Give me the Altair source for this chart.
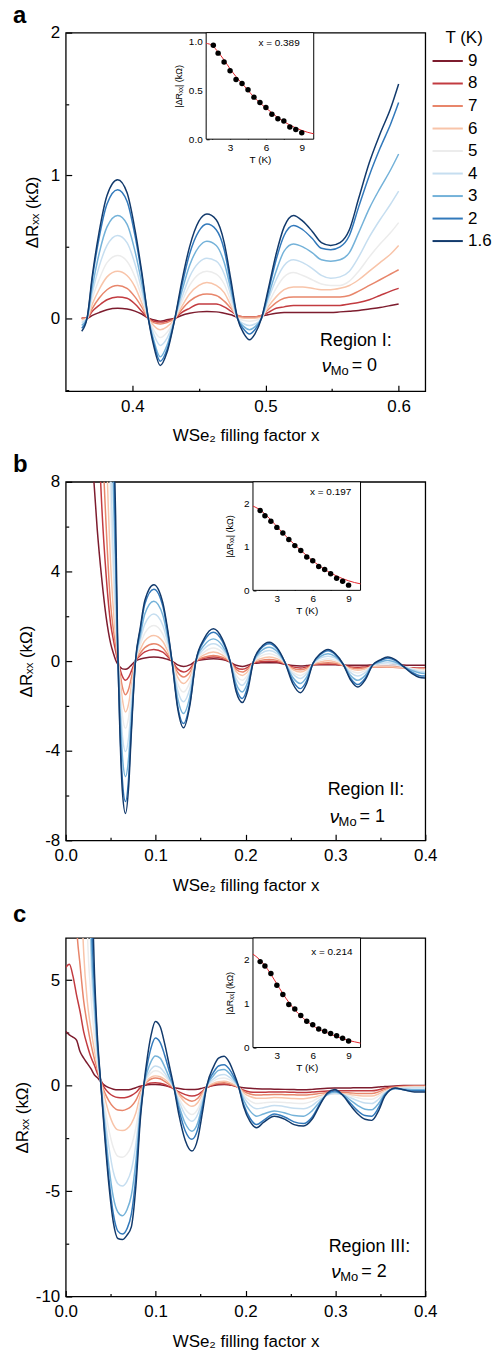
import altair as alt
import pandas as pd

FONT = "Liberation Sans"
T_LABELS = ["9", "8", "7", "6", "5", "4", "3", "2", "1.6"]
COLORS = ["#7d1c2e", "#c23b40", "#e8866b", "#f8c4a9", "#ececec", "#c6def0", "#74b2d9", "#3279bb", "#123a6c"]

# ---------------- panel a : Region I ----------------
A_X = [0.362, 0.366, 0.370, 0.375, 0.381, 0.389, 0.396, 0.402, 0.407, 0.412, 0.416, 0.421, 0.426, 0.432,
       0.437, 0.443, 0.450, 0.456, 0.463, 0.469, 0.474, 0.479, 0.484, 0.488, 0.492, 0.497, 0.502, 0.508,
       0.514, 0.521, 0.528, 0.535, 0.542, 0.549, 0.556, 0.563, 0.570, 0.578, 0.586, 0.594, 0.600]
A_9 = [0.0, 0.0, 0.02, 0.04, 0.06, 0.07, 0.065, 0.05, 0.03, 0.0, -0.01, -0.02, -0.01, 0.0, 0.02, 0.035, 0.045,
       0.047, 0.045, 0.035, 0.025, 0.01, 0.01, 0.01, 0.01, 0.015, 0.025, 0.035, 0.04, 0.04, 0.04, 0.04, 0.04,
       0.04, 0.045, 0.05, 0.055, 0.065, 0.075, 0.09, 0.10]
A_8 = [0.0, 0.0, 0.05, 0.09, 0.13, 0.15, 0.14, 0.10, 0.05, 0.0, -0.02, -0.026, -0.02, 0.0, 0.04, 0.07, 0.10,
       0.10, 0.10, 0.08, 0.05, 0.02, 0.01, 0.01, 0.01, 0.02, 0.04, 0.07, 0.08, 0.09, 0.09, 0.09, 0.09, 0.09,
       0.09, 0.10, 0.11, 0.13, 0.16, 0.19, 0.21]
A_7 = [0.0, 0.0, 0.07, 0.14, 0.20, 0.23, 0.21, 0.15, 0.08, 0.0, -0.03, -0.04, -0.03, 0.0, 0.06, 0.12, 0.16,
       0.17, 0.16, 0.12, 0.07, 0.02, 0.01, 0.01, 0.01, 0.02, 0.06, 0.11, 0.14, 0.15, 0.15, 0.15, 0.15, 0.15,
       0.15, 0.16, 0.19, 0.23, 0.27, 0.31, 0.34]
A_6 = [-0.01, 0.0, 0.10, 0.20, 0.29, 0.33, 0.30, 0.22, 0.11, 0.0, -0.05, -0.08, -0.06, 0.0, 0.08, 0.17, 0.23,
       0.25, 0.23, 0.18, 0.09, 0.01, 0.0, 0.0, 0.0, 0.01, 0.08, 0.15, 0.20, 0.22, 0.22, 0.21, 0.20, 0.20,
       0.21, 0.23, 0.27, 0.33, 0.39, 0.45, 0.51]
A_5 = [-0.02, 0.0, 0.14, 0.27, 0.39, 0.44, 0.40, 0.29, 0.15, 0.0, -0.08, -0.135, -0.10, 0.0, 0.11, 0.23, 0.31,
       0.33, 0.31, 0.24, 0.12, 0.0, -0.015, -0.02, -0.015, 0.0, 0.10, 0.21, 0.29, 0.32, 0.30, 0.27, 0.24,
       0.23, 0.23, 0.26, 0.33, 0.43, 0.52, 0.60, 0.67]
A_4 = [-0.03, 0.0, 0.18, 0.36, 0.51, 0.58, 0.53, 0.38, 0.20, 0.0, -0.11, -0.19, -0.14, 0.0, 0.14, 0.29, 0.39,
       0.42, 0.40, 0.31, 0.16, 0.0, -0.04, -0.05, -0.04, 0.0, 0.13, 0.27, 0.37, 0.41, 0.39, 0.35, 0.30, 0.28,
       0.29, 0.33, 0.43, 0.57, 0.69, 0.80, 0.89]
A_3 = [-0.05, 0.0, 0.22, 0.45, 0.64, 0.72, 0.66, 0.47, 0.25, 0.0, -0.15, -0.27, -0.19, 0.0, 0.18, 0.37, 0.50,
       0.54, 0.51, 0.39, 0.20, 0.0, -0.06, -0.08, -0.06, 0.0, 0.15, 0.33, 0.47, 0.52, 0.50, 0.46, 0.41, 0.40,
       0.41, 0.46, 0.60, 0.77, 0.91, 1.04, 1.15]
A_2 = [-0.07, 0.0, 0.28, 0.56, 0.80, 0.90, 0.82, 0.58, 0.31, 0.0, -0.17, -0.30, -0.22, 0.0, 0.22, 0.45, 0.61,
       0.66, 0.62, 0.48, 0.24, 0.0, -0.08, -0.11, -0.08, 0.0, 0.18, 0.41, 0.58, 0.65, 0.62, 0.56, 0.49, 0.48,
       0.50, 0.58, 0.78, 1.00, 1.19, 1.36, 1.51]
A_16 = [-0.09, 0.0, 0.30, 0.60, 0.86, 0.97, 0.88, 0.62, 0.33, 0.0, -0.19, -0.33, -0.24, 0.0, 0.25, 0.50, 0.68,
        0.73, 0.69, 0.53, 0.27, 0.0, -0.11, -0.15, -0.11, 0.0, 0.20, 0.45, 0.64, 0.72, 0.68, 0.61, 0.53, 0.51,
        0.53, 0.62, 0.84, 1.09, 1.29, 1.47, 1.64]

# ---------------- panel b : Region II ----------------
B_X = [0.030, 0.035, 0.040, 0.045, 0.050, 0.053, 0.0555, 0.058, 0.060, 0.063, 0.0665, 0.070, 0.073, 0.0776,
       0.083, 0.088, 0.098, 0.108, 0.113, 0.1182, 0.1245, 0.1311, 0.138, 0.1448, 0.154, 0.1643, 0.174, 0.1828,
       0.1895, 0.1965, 0.2025, 0.2087, 0.217, 0.2264, 0.235, 0.2438, 0.2525, 0.2611, 0.268, 0.2751, 0.283,
       0.2918, 0.300, 0.3084, 0.317, 0.325, 0.333, 0.3416, 0.350, 0.3582, 0.367, 0.376, 0.385, 0.393, 0.400]
B_9 = [8.8, 5.9, 3.7, 1.95, 0.78, 0.35, 0.05, -0.15, -0.25, -0.35, -0.37, -0.3, -0.18, 0.0, 0.09, 0.14, 0.18,
       0.14, 0.08, 0.0, -0.17, -0.24, -0.17, 0.0, 0.07, 0.1, 0.07, -0.05, -0.19, -0.24, -0.19, -0.1, -0.08,
       -0.07, -0.08, -0.14, -0.2, -0.22, -0.2, -0.17, -0.16, -0.16, -0.16, -0.18, -0.19, -0.19, -0.19, -0.17,
       -0.16, -0.16, -0.17, -0.18, -0.19, -0.19, -0.19]
B_8 = [20, 12, 7.0, 3.8, 1.65, 0.95, 0.45, 0.0, -0.3, -0.68, -0.86, -0.72, -0.45, 0.0, 0.25, 0.41, 0.52, 0.4,
       0.22, 0.0, -0.35, -0.49, -0.34, 0.0, 0.12, 0.18, 0.12, -0.04, -0.29, -0.37, -0.28, -0.09, -0.03, -0.01,
       -0.03, -0.13, -0.26, -0.31, -0.26, -0.17, -0.14, -0.13, -0.14, -0.2, -0.26, -0.28, -0.26, -0.24, -0.24,
       -0.24, -0.26, -0.28, -0.3, -0.31, -0.31]
B_7 = [20, 20, 11, 6.0, 2.5, 1.4, 0.7, 0.0, -0.45, -1.15, -1.5, -1.25, -0.75, 0.0, 0.36, 0.6, 0.77, 0.58, 0.32,
       0.0, -0.5, -0.71, -0.5, 0.0, 0.17, 0.25, 0.17, -0.03, -0.37, -0.49, -0.36, -0.08, 0.03, 0.07, 0.03,
       -0.12, -0.32, -0.39, -0.32, -0.16, -0.1, -0.07, -0.1, -0.2, -0.3, -0.34, -0.31, -0.27, -0.27, -0.27,
       -0.29, -0.31, -0.33, -0.34, -0.34]
B_6 = [20, 20, 20, 10, 4.3, 2.3, 1.1, 0.25, -0.6, -1.7, -2.27, -1.9, -1.1, 0.0, 0.52, 0.9, 1.14, 0.87, 0.48,
       0.0, -0.72, -1.0, -0.7, 0.0, 0.28, 0.4, 0.28, -0.02, -0.47, -0.64, -0.46, -0.07, 0.11, 0.18, 0.11, -0.1,
       -0.38, -0.49, -0.38, -0.14, -0.04, 0.01, -0.04, -0.17, -0.35, -0.41, -0.35, -0.24, -0.23, -0.24, -0.26,
       -0.3, -0.33, -0.36, -0.37]
B_5 = [20, 20, 20, 20, 7.0, 3.8, 1.6, 0.3, -0.9, -2.4, -3.0, -2.5, -1.5, 0.0, 0.72, 1.25, 1.59, 1.2, 0.68, 0.0,
       -1.0, -1.38, -0.95, 0.0, 0.4, 0.58, 0.4, -0.01, -0.62, -0.86, -0.6, -0.06, 0.22, 0.33, 0.22, -0.08,
       -0.48, -0.64, -0.48, -0.12, 0.03, 0.1, 0.03, -0.15, -0.43, -0.53, -0.43, -0.2, -0.16, -0.16, -0.18,
       -0.25, -0.33, -0.39, -0.41]
B_4 = [20, 20, 20, 20, 8.8, 4.6, 2.3, 0.2, -1.3, -3.3, -4.04, -3.4, -2.0, 0.0, 0.95, 1.65, 2.1, 1.6, 0.9, 0.0,
       -1.3, -1.82, -1.25, 0.0, 0.55, 0.77, 0.55, 0.0, -0.78, -1.08, -0.75, -0.05, 0.33, 0.47, 0.33, -0.07,
       -0.57, -0.78, -0.57, -0.11, 0.13, 0.22, 0.13, -0.14, -0.52, -0.67, -0.52, -0.18, -0.1, -0.07, -0.12,
       -0.25, -0.38, -0.46, -0.49]
B_3 = [20, 20, 20, 20, 13, 7.5, 4.0, 0.3, -1.8, -4.2, -5.16, -4.3, -2.5, 0.0, 1.15, 2.1, 2.67, 2.05, 1.15, 0.0,
       -1.65, -2.34, -1.6, 0.0, 0.7, 0.99, 0.7, 0.0, -1.0, -1.38, -0.95, -0.04, 0.44, 0.62, 0.44, -0.06, -0.72,
       -1.0, -0.72, -0.1, 0.2, 0.33, 0.2, -0.13, -0.65, -0.86, -0.65, -0.17, -0.04, 0.03, -0.05, -0.25, -0.42,
       -0.52, -0.56]
B_2 = [20, 20, 20, 20, 20, 10, 5.0, 0.0, -2.6, -5.3, -6.27, -5.2, -3.0, 0.0, 1.4, 2.55, 3.21, 2.45, 1.4, 0.0,
       -2.0, -2.79, -1.9, 0.0, 0.9, 1.29, 0.9, 0.0, -1.2, -1.67, -1.15, -0.03, 0.55, 0.77, 0.55, -0.05, -0.87,
       -1.23, -0.88, -0.1, 0.28, 0.46, 0.29, -0.12, -0.78, -1.05, -0.78, -0.17, 0.02, 0.13, 0.02, -0.25, -0.5,
       -0.64, -0.67]
B_16 = [20, 20, 20, 20, 20, 11, 6.5, 0.3, -2.8, -5.8, -6.8, -5.6, -3.2, 0.0, 1.5, 2.7, 3.41, 2.6, 1.5, 0.0,
        -2.1, -2.98, -2.0, 0.0, 1.0, 1.44, 1.0, 0.0, -1.35, -1.85, -1.3, -0.03, 0.6, 0.84, 0.6, -0.05, -1.0,
        -1.41, -1.0, -0.1, 0.32, 0.52, 0.33, -0.12, -0.85, -1.16, -0.85, -0.17, 0.05, 0.18, 0.05, -0.25, -0.55,
        -0.72, -0.76]

# ---------------- panel c : Region III ----------------
C_X = [0.000, 0.004, 0.008, 0.012, 0.016, 0.020, 0.024, 0.028, 0.032, 0.035, 0.0388, 0.043, 0.048, 0.053,
       0.058, 0.063, 0.068, 0.073, 0.078, 0.083, 0.0868, 0.091, 0.095, 0.0997, 0.105, 0.110, 0.115, 0.120,
       0.126, 0.133, 0.1404, 0.147, 0.152, 0.157, 0.164, 0.170, 0.1762, 0.182, 0.187, 0.192, 0.198, 0.205,
       0.2124, 0.220, 0.232, 0.244, 0.254, 0.2645, 0.274, 0.283, 0.291, 0.2992, 0.308, 0.317, 0.325, 0.333,
       0.3405, 0.348, 0.355, 0.3665, 0.376, 0.388, 0.400]
C_9 = [2.57, 2.4, 2.3, 2.15, 1.6, 1.3, 1.05, 0.8, 0.5, 0.38,
       0.2, 0.02, -0.1, -0.17, -0.2, -0.2, -0.2, -0.17, -0.1, -0.03,
       0.0, 0.04, 0.05, 0.05, 0.04, 0.0, -0.05, -0.1, -0.14, -0.18,
       -0.19, -0.17, -0.12, -0.07, 0.0, 0.04, 0.05, 0.03, 0.0, -0.05,
       -0.1, -0.13, -0.15, -0.16, -0.17, -0.18, -0.19, -0.2, -0.18, -0.15,
       -0.13, -0.12, -0.12, -0.11, -0.1, -0.1, -0.1, -0.07, -0.04, -0.02,
       0.0, 0.0, 0.0]
C_8 = [5.6, 5.75, 5.2, 4.3, 3.5, 2.55, 1.9, 1.35, 0.95, 0.6,
       0.3, -0.1, -0.35, -0.5, -0.57, -0.58, -0.55, -0.47, -0.33, -0.1,
       0.0, 0.08, 0.12, 0.13, 0.11, 0.05, -0.05, -0.15, -0.3, -0.43,
       -0.5, -0.43, -0.27, -0.1, 0.02, 0.07, 0.08, 0.05, -0.01, -0.09,
       -0.22, -0.3, -0.32, -0.32, -0.3, -0.31, -0.32, -0.33, -0.31, -0.28,
       -0.26, -0.25, -0.25, -0.25, -0.25, -0.25, -0.25, -0.2, -0.12, -0.04,
       -0.02, -0.01, -0.01]
C_7 = [20, 20, 12, 7.6, 5.7, 4.0, 2.9, 1.98, 1.25, 0.8,
       0.2, -0.3, -0.72, -1.02, -1.16, -1.18, -1.12, -0.98, -0.7, -0.25,
       0.0, 0.2, 0.31, 0.36, 0.32, 0.2, 0.05, -0.12, -0.38, -0.62,
       -0.74, -0.6, -0.33, -0.07, 0.06, 0.12, 0.13, 0.09, 0.02, -0.08,
       -0.28, -0.4, -0.45, -0.44, -0.42, -0.43, -0.44, -0.45, -0.42, -0.37,
       -0.34, -0.33, -0.33, -0.35, -0.37, -0.38, -0.38, -0.3, -0.18, -0.07,
       -0.04, -0.03, -0.03]
C_6 = [20, 20, 20, 20, 11, 6.3, 4.0, 2.7, 1.65, 1.0,
       0.25, -0.5, -1.3, -1.85, -2.1, -2.13, -2.05, -1.8, -1.3, -0.45,
       0.0, 0.27, 0.4, 0.46, 0.42, 0.3, 0.12, -0.1, -0.45, -0.8,
       -0.98, -0.8, -0.42, -0.06, 0.1, 0.18, 0.2, 0.15, 0.05, -0.07,
       -0.35, -0.52, -0.6, -0.6, -0.57, -0.59, -0.61, -0.62, -0.57, -0.47,
       -0.4, -0.38, -0.39, -0.43, -0.47, -0.5, -0.5, -0.4, -0.25, -0.1,
       -0.06, -0.04, -0.04]
C_5 = [20, 20, 20, 20, 20, 20, 7.5, 4.3, 2.3, 1.1,
       0.2, -0.9, -2.1, -2.95, -3.35, -3.4, -3.25, -2.85, -2.0, -0.7,
       0.0, 0.38, 0.6, 0.7, 0.64, 0.45, 0.2, -0.08, -0.6, -1.12,
       -1.37, -1.1, -0.57, -0.05, 0.2, 0.33, 0.36, 0.28, 0.13, -0.06,
       -0.45, -0.72, -0.85, -0.82, -0.78, -0.8, -0.84, -0.85, -0.75, -0.55,
       -0.43, -0.4, -0.42, -0.5, -0.58, -0.64, -0.65, -0.5, -0.3, -0.13,
       -0.1, -0.08, -0.08]
C_4 = [20, 20, 20, 20, 20, 20, 20, 6.2, 3.3, 1.6,
       0.2, -1.3, -2.9, -4.1, -4.65, -4.76, -4.55, -4.0, -2.8, -0.95,
       0.0, 0.5, 0.78, 0.93, 0.85, 0.6, 0.27, -0.07, -0.75, -1.4,
       -1.69, -1.35, -0.7, -0.04, 0.3, 0.48, 0.52, 0.4, 0.2, -0.05,
       -0.55, -0.92, -1.1, -1.05, -0.95, -1.0, -1.08, -1.1, -0.95, -0.65,
       -0.45, -0.36, -0.42, -0.58, -0.72, -0.83, -0.85, -0.65, -0.35, -0.15,
       -0.13, -0.12, -0.12]
C_3 = [20, 20, 20, 20, 20, 20, 20, 7.5, 3.9, 1.9,
       0.2, -1.7, -3.8, -5.3, -6.0, -6.17, -5.9, -5.2, -3.6, -1.2,
       0.0, 0.7, 1.15, 1.4, 1.3, 0.9, 0.4, -0.05, -0.95, -1.8,
       -2.16, -1.75, -0.9, -0.02, 0.45, 0.72, 0.76, 0.58, 0.3, -0.04,
       -0.7, -1.2, -1.45, -1.35, -1.2, -1.3, -1.42, -1.45, -1.2, -0.75,
       -0.42, -0.3, -0.42, -0.7, -0.95, -1.12, -1.15, -0.85, -0.4, -0.15,
       -0.17, -0.2, -0.2]
C_2 = [20, 20, 20, 20, 20, 20, 20, 9.0, 4.6, 2.2,
       0.2, -2.0, -4.4, -6.1, -6.9, -7.04, -6.8, -6.1, -4.3, -1.4,
       0.0, 1.05, 1.8, 2.25, 2.05, 1.45, 0.7, -0.02, -1.15, -2.15,
       -2.55, -2.05, -1.05, 0.0, 0.6, 0.93, 0.99, 0.78, 0.42, -0.02,
       -0.9, -1.55, -1.85, -1.65, -1.35, -1.5, -1.72, -1.8, -1.5, -0.85,
       -0.4, -0.24, -0.45, -0.85, -1.2, -1.42, -1.45, -1.05, -0.45, -0.13,
       -0.2, -0.25, -0.25]
C_16 = [20, 20, 20, 20, 20, 20, 20, 11, 5.3, 2.5,
        0.2, -2.2, -4.7, -6.5, -7.25, -7.3, -7.1, -6.7, -4.8, -1.6,
        0.0, 1.4, 2.4, 3.04, 2.8, 2.0, 1.0, 0.0, -1.4, -2.6,
        -3.1, -2.5, -1.3, 0.0, 0.85, 1.3, 1.39, 1.1, 0.6, 0.0,
        -1.0, -1.7, -2.0, -1.75, -1.45, -1.6, -1.85, -1.92, -1.6, -0.9,
        -0.35, -0.19, -0.45, -0.95, -1.35, -1.6, -1.65, -1.2, -0.5, -0.11,
        -0.2, -0.3, -0.3]

# ---------------- insets ----------------
INS_T = [1.6, 2.0, 2.5, 3.0, 3.5, 4.0, 4.5, 5.0, 5.5, 6.0, 6.5, 7.0, 7.5, 8.0, 8.5, 9.0]
IA_Y = [0.96, 0.88, 0.79, 0.70, 0.61, 0.57, 0.505, 0.43, 0.375, 0.325, 0.255, 0.21, 0.185, 0.125, 0.10, 0.065]
IB_Y = [1.84, 1.72, 1.59, 1.45, 1.32, 1.17, 1.03, 0.92, 0.77, 0.68, 0.55, 0.48, 0.38, 0.28, 0.21, 0.12]
IC_Y = [1.96, 1.86, 1.69, 1.42, 1.21, 0.98, 0.88, 0.73, 0.60, 0.52, 0.42, 0.37, 0.32, 0.27, 0.21, 0.15]
FIT_T = [1.0, 1.5, 2.0, 2.5, 3.0, 3.5, 4.0, 4.5, 5.0, 5.5, 6.0, 6.5, 7.0, 7.5, 8.0, 8.5, 9.0, 9.5, 10.0]
FA_Y = [0.98, 0.96, 0.89, 0.81, 0.72, 0.64, 0.57, 0.50, 0.43, 0.37, 0.32, 0.27, 0.22, 0.18, 0.145, 0.115, 0.09, 0.07, 0.055]
FB_Y = [1.94, 1.87, 1.76, 1.62, 1.47, 1.32, 1.18, 1.05, 0.92, 0.80, 0.68, 0.58, 0.48, 0.40, 0.33, 0.27, 0.22, 0.18, 0.15]
FC_Y = [2.13, 2.02, 1.87, 1.67, 1.45, 1.23, 1.03, 0.86, 0.72, 0.60, 0.50, 0.42, 0.36, 0.30, 0.25, 0.20, 0.16, 0.13, 0.10]

W, H = 361, 360


def sc(domain, rng=None):
    if rng is None:
        return alt.Scale(domain=domain, nice=False, zero=False)
    return alt.Scale(domain=domain, range=rng, nice=False, zero=False)


def neg_label(fmt):
    return ("datum.value < 0 ? '-' + format(-datum.value, '%s') : format(datum.value, '%s')" % (fmt, fmt))


def to_long(xs, series):
    rows = []
    for t, ys in zip(T_LABELS, series):
        for x, y in zip(xs, ys):
            rows.append({"x": x, "y": y, "T": t})
    return pd.DataFrame(rows)


def tick_axis(values, size, orient, base):
    return alt.Axis(values=values, labels=False, domain=False, grid=False, ticks=True,
                    tickSize=size, tickWidth=1.2, tickColor="black", offset=base - size,
                    title=None, orient=orient)


def panel(letter, title_offset, xs, series, xdom, ydom, x_major, x_minor, y_major, y_minor, y_tpad,
          reg_text, reg_xy, eq_text, nu_xy,
          ins_ytop, ins_yb, ins_xl, ins_xr, ins_ymaj, ins_ymin, ins_yfmt, ins_ytpad,
          ins_pts, ins_fit, ins_lab, ins_lab_xy, legend):
    df = to_long(xs, series)
    if legend:
        leg = alt.Legend(title="T (K)", orient="none", legendX=373, legendY=-3,
                         titleFontSize=17, titleFontWeight="normal", titleFont=FONT, titleColor="black",
                         titleAnchor="middle", titlePadding=4,
                         labelFontSize=17, labelFont=FONT, labelColor="black", labelOffset=10,
                         symbolType="M-1.6,0H1.6", symbolSize=361, symbolStrokeWidth=2,
                         rowPadding=3.6, padding=0)
    else:
        leg = None
    lines = alt.Chart(df).mark_line(clip=True, strokeWidth=1.5, interpolate="monotone").encode(
        x=alt.X("x:Q", scale=sc(xdom),
                axis=alt.Axis(values=x_major, format=".1f", ticks=False, tickSize=0, domain=False, grid=False,
                              labelFlush=False, labelPadding=7, labelFontSize=17, title="WSe₂ filling factor x",
                              titleFontSize=17, titleFontWeight="normal", titlePadding=14, orient="bottom")),
        y=alt.Y("y:Q", scale=sc(ydom),
                axis=alt.Axis(values=y_major, labelExpr=neg_label("d"), ticks=False, tickSize=0, domain=False,
                              grid=False, labelFlush=False, labelPadding=6, labelFontSize=17, title="ΔRₓₓ (kΩ)",
                              titleFontSize=17, titleFontWeight="normal", titlePadding=y_tpad, orient="left")),
        color=alt.Color("T:N", scale=alt.Scale(domain=T_LABELS, range=COLORS), legend=leg),
    )
    box = pd.DataFrame({"x": xdom, "y": ydom})

    def ticks(xv, yv, size):
        return alt.Chart(box).mark_point(opacity=0, size=1).encode(
            x=alt.X("x:Q", scale=sc(xdom), axis=tick_axis(xv, size, "bottom", 0)),
            y=alt.Y("y:Q", scale=sc(ydom), axis=tick_axis(yv, size, "left", 0)))

    def text(xy, txt, size, dx=0, dy=0, style="normal"):
        d = pd.DataFrame({"x": [xy[0]], "y": [xy[1]], "t": [txt]})
        return alt.Chart(d).mark_text(align="left", baseline="middle", fontSize=size, dx=dx, dy=dy,
                                      font=FONT, color="black", fontStyle=style).encode(
            x=alt.X("x:Q", scale=sc(xdom), axis=None),
            y=alt.Y("y:Q", scale=sc(ydom), axis=None),
            text="t:N")

    reg = text(reg_xy, reg_text, 18)
    nu = text(nu_xy, "ν", 19, style="italic")
    mo = text(nu_xy, "Mo", 13, dx=9, dy=5)
    eq = text(nu_xy, eq_text, 18, dx=30)

    ixs = lambda: sc([1.0, 10.0], [ins_xl, ins_xr])
    iys = lambda: sc([0.0, ins_ytop], [ins_yb, 0])
    frame_df = pd.DataFrame({"x1": [1.0], "x2": [10.0], "y1": [0.0], "y2": [ins_ytop]})
    frame = alt.Chart(frame_df).mark_rect(fill="white", stroke="black", strokeWidth=1).encode(
        x=alt.X("x1:Q", scale=ixs(),
                axis=alt.Axis(values=[3, 6, 9], format="d", ticks=False, tickSize=0, domain=False, grid=False,
                              labelFlush=False, labelPadding=3, labelFontSize=10, title="T (K)", titleFontSize=10,
                              titleFontWeight="normal", titlePadding=2, offset=ins_yb - H, orient="bottom")),
        x2="x2:Q",
        y=alt.Y("y1:Q", scale=iys(),
                axis=alt.Axis(values=ins_ymaj, format=ins_yfmt, ticks=False, tickSize=0, domain=False,
                              grid=False, labelFlush=False, labelPadding=4, labelFontSize=10,
                              title="|ΔRₓₓ| (kΩ)", titleFontSize=9, titleFontWeight="normal",
                              titlePadding=ins_ytpad, offset=-ins_xl, orient="left")),
        y2="y2:Q")
    fit_df = pd.DataFrame({"T": FIT_T, "y": ins_fit})
    fit = alt.Chart(fit_df).mark_line(color="#e3242b", strokeWidth=1, interpolate="monotone").encode(
        x=alt.X("T:Q", scale=ixs(), axis=tick_axis([1.5, 3, 4.5, 6, 7.5, 9], 3, "bottom", ins_yb - H)),
        y=alt.Y("y:Q", scale=iys(), axis=tick_axis(ins_ymaj + ins_ymin, 3, "left", -ins_xl)))
    pts_df = pd.DataFrame({"T": INS_T, "y": ins_pts})
    pts = alt.Chart(pts_df).mark_circle(size=30, color="black", opacity=1).encode(
        x=alt.X("T:Q", scale=ixs(), axis=None),
        y=alt.Y("y:Q", scale=iys(), axis=None))
    lab_df = pd.DataFrame({"T": [ins_lab_xy[0]], "y": [ins_lab_xy[1]], "t": [ins_lab]})
    lab = alt.Chart(lab_df).mark_text(align="center", baseline="middle", fontSize=10, font=FONT,
                                      color="black").encode(
        x=alt.X("T:Q", scale=ixs(), axis=None),
        y=alt.Y("y:Q", scale=iys(), axis=None),
        text="t:N")

    layered = alt.layer(lines, ticks(x_major, y_major, 6), ticks(x_minor, y_minor, 3),
                        reg, nu, mo, eq, frame, fit, pts, lab)
    return layered.resolve_scale(x="independent", y="independent").properties(
        width=W, height=H,
        title=alt.TitleParams(text=letter, anchor="start", frame="group", dx=-53, fontSize=24,
                              fontWeight="bold", font=FONT, color="black", offset=title_offset))


pa = panel("a", -4, A_X, [A_9, A_8, A_7, A_6, A_5, A_4, A_3, A_2, A_16],
           [0.35, 0.62], [-0.51, 2.0], [0.4, 0.5, 0.6], [0.45, 0.55], [0, 1, 2], [-0.5, 0.5, 1.5], 9,
           "Region I:", (0.541, -0.16), "= 0", (0.5423, -0.335),
           1.09, 107, 141, 249, [0.0, 0.5, 1.0], [0.25, 0.75], ".1f", 5,
           IA_Y, FA_Y, "x = 0.389", (7.1, 0.98), True)
pb = panel("b", -4, B_X, [B_9, B_8, B_7, B_6, B_5, B_4, B_3, B_2, B_16],
           [0.0, 0.4], [-8, 8], [0.0, 0.1, 0.2, 0.3, 0.4], [0.05, 0.15, 0.25, 0.35], [-8, -4, 0, 4, 8],
           [-6, -2, 2, 6], 9,
           "Region II:", (0.2914, -5.76), "= 1", (0.2936, -6.95),
           2.5, 109, 188, 296, [0, 1, 2], [0.5, 1.5], "d", 9,
           IB_Y, FB_Y, "x = 0.197", (7.5, 2.27), False)
pc = panel("c", 11, C_X, [C_9, C_8, C_7, C_6, C_5, C_4, C_3, C_2, C_16],
           [0.0, 0.4], [-10, 7], [0.0, 0.1, 0.2, 0.3, 0.4], [0.05, 0.15, 0.25, 0.35], [-10, -5, 0, 5],
           [-7.5, -2.5, 2.5], 4,
           "Region III:", (0.2925, -7.67), "= 2", (0.2955, -8.85),
           2.5, 110, 188, 296, [0, 1, 2], [0.5, 1.5], "d", 9,
           IC_Y, FC_Y, "x = 0.214", (7.6, 2.18), False)

chart = alt.vconcat(pa, pb, pc, spacing=7).resolve_scale(color="independent").properties(
    padding={"left": 12, "top": 0, "right": 0, "bottom": 0}
).configure(font=FONT).configure_view(stroke="black", strokeWidth=1.3).configure_axis(
    labelColor="black", titleColor="black", labelFont=FONT, titleFont=FONT)

chart.save("out.html", embed_options={"renderer": "svg", "actions": False})
